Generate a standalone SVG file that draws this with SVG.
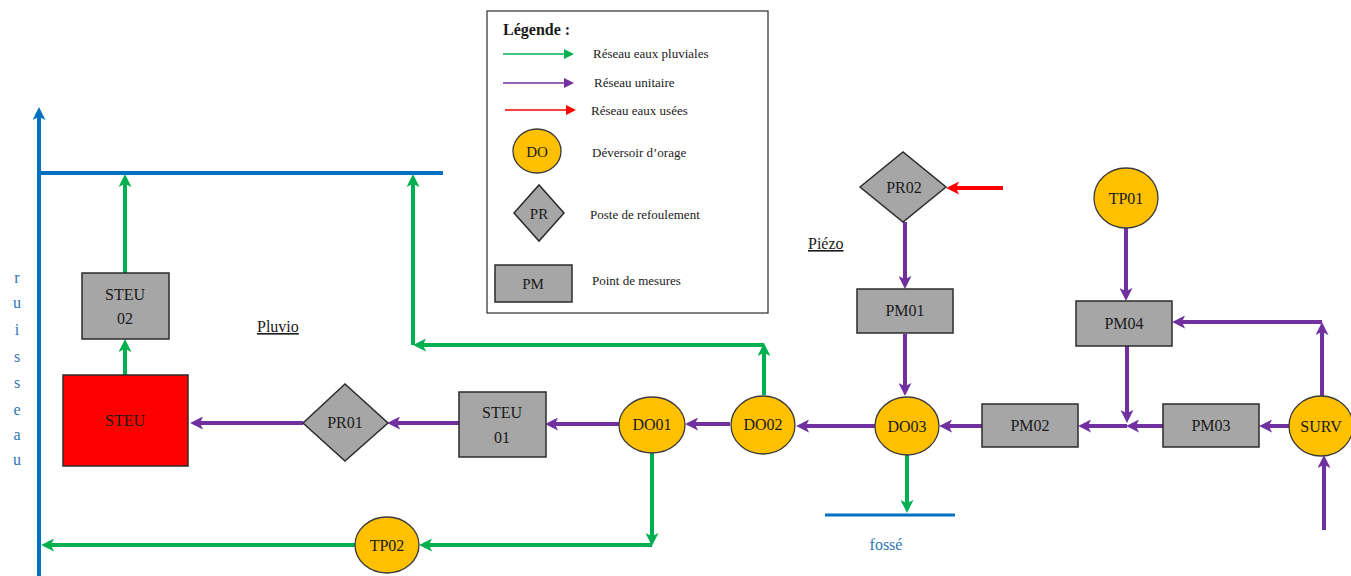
<svg xmlns="http://www.w3.org/2000/svg" width="1351" height="576" viewBox="0 0 1351 576" font-family="'Liberation Serif', 'DejaVu Serif', serif">
<defs>
<style>
text{font-family:'Liberation Serif','DejaVu Serif',serif;fill:#1a1a1a}
.n{font-size:16px;text-anchor:middle}
.lg{font-size:13px}
.do{fill:#ffc000;stroke:#3a3a3a;stroke-width:1.3}
.gr{fill:#a6a6a6;stroke:#2b2b2b;stroke-width:1.5}
.g{stroke:#00b050;stroke-width:4;fill:none}
.p{stroke:#7030a0;stroke-width:4;fill:none}
.r{stroke:#ff0000;stroke-width:4;fill:none}
.b{stroke:#0070c0;stroke-width:4;fill:none}
.blue{fill:#2e75b6;font-size:16px;text-anchor:middle}
.u{font-size:16px;text-decoration:underline}
</style>
<marker id="ag" viewBox="0 0 10 10" refX="7" refY="5" markerWidth="13" markerHeight="13" markerUnits="userSpaceOnUse" orient="auto"><path d="M0,0 L10,5 L0,10 L2.5,5 z" fill="#00b050"/></marker>
<marker id="ap" viewBox="0 0 10 10" refX="7" refY="5" markerWidth="13" markerHeight="13" markerUnits="userSpaceOnUse" orient="auto"><path d="M0,0 L10,5 L0,10 L2.5,5 z" fill="#7030a0"/></marker>
<marker id="ar" viewBox="0 0 10 10" refX="7" refY="5" markerWidth="13" markerHeight="13" markerUnits="userSpaceOnUse" orient="auto"><path d="M0,0 L10,5 L0,10 L2.5,5 z" fill="#ff0000"/></marker>
<marker id="ab" viewBox="0 0 10 10" refX="7" refY="5" markerWidth="13" markerHeight="13" markerUnits="userSpaceOnUse" orient="auto"><path d="M0,0 L10,5 L0,10 L2.5,5 z" fill="#0070c0"/></marker>
<marker id="lg" viewBox="0 0 10 10" refX="8" refY="5" markerWidth="12" markerHeight="10" markerUnits="userSpaceOnUse" orient="auto"><path d="M0,0 L10,5 L0,10 z" fill="#00b050"/></marker>
<marker id="lp" viewBox="0 0 10 10" refX="8" refY="5" markerWidth="12" markerHeight="10" markerUnits="userSpaceOnUse" orient="auto"><path d="M0,0 L10,5 L0,10 z" fill="#7030a0"/></marker>
<marker id="lr" viewBox="0 0 10 10" refX="8" refY="5" markerWidth="12" markerHeight="10" markerUnits="userSpaceOnUse" orient="auto"><path d="M0,0 L10,5 L0,10 z" fill="#ff0000"/></marker>
</defs>
<rect width="1351" height="576" fill="#ffffff"/>

<g id="river">
<line class="b" x1="39" y1="576" x2="39" y2="111" marker-end="url(#ab)"/>
<line class="b" x1="39" y1="173" x2="443" y2="173"/>
<text class="blue" x="17" y="283">r</text>
<text class="blue" x="17" y="308">u</text>
<text class="blue" x="17" y="335">i</text>
<text class="blue" x="17" y="362">s</text>
<text class="blue" x="17" y="388">s</text>
<text class="blue" x="17" y="415">e</text>
<text class="blue" x="17" y="440">a</text>
<text class="blue" x="17" y="465">u</text>
</g>
<g id="fosse">
<line class="b" x1="825" y1="515" x2="955" y2="515" style="stroke-width:3"/>
<text class="blue" x="886" y="550">fossé</text>
</g>
<g id="labels">
<text class="u" x="257" y="332">Pluvio</text>
<text class="u" x="808" y="249">Piézo</text>
</g>

<g id="connectors">
<line class="g" x1="125" y1="375" x2="125" y2="343" marker-end="url(#ag)"/>
<line class="g" x1="125" y1="273" x2="125" y2="178" marker-end="url(#ag)"/>
<line class="g" x1="764" y1="395" x2="764" y2="347" marker-end="url(#ag)"/>
<line class="g" x1="764" y1="345" x2="417" y2="345" marker-end="url(#ag)"/>
<line class="g" x1="413" y1="345" x2="413" y2="178" marker-end="url(#ag)"/>
<line class="g" x1="652" y1="453" x2="652" y2="542" marker-end="url(#ag)"/>
<line class="g" x1="652" y1="545" x2="423" y2="545" marker-end="url(#ag)"/>
<line class="g" x1="355" y1="545" x2="45" y2="545" marker-end="url(#ag)"/>
<line class="g" x1="907" y1="455" x2="907" y2="509" marker-end="url(#ag)"/>
<line class="p" x1="303" y1="423" x2="194" y2="423" marker-end="url(#ap)"/>
<line class="p" x1="459" y1="423" x2="391" y2="423" marker-end="url(#ap)"/>
<line class="p" x1="619" y1="424" x2="549" y2="424" marker-end="url(#ap)"/>
<line class="p" x1="730" y1="424" x2="689" y2="424" marker-end="url(#ap)"/>
<line class="p" x1="875" y1="426" x2="800" y2="426" marker-end="url(#ap)"/>
<line class="p" x1="982" y1="426" x2="943" y2="426" marker-end="url(#ap)"/>
<line class="p" x1="1127" y1="426" x2="1082" y2="426" marker-end="url(#ap)"/>
<line class="p" x1="1163" y1="426" x2="1130" y2="426" marker-end="url(#ap)"/>
<line class="p" x1="1290" y1="426" x2="1263" y2="426" marker-end="url(#ap)"/>
<line class="p" x1="1127" y1="346" x2="1127" y2="419" marker-end="url(#ap)"/>
<line class="p" x1="1126" y1="228" x2="1126" y2="297" marker-end="url(#ap)"/>
<line class="p" x1="1322" y1="396" x2="1322" y2="326" marker-end="url(#ap)"/>
<line class="p" x1="1322" y1="322" x2="1176" y2="322" marker-end="url(#ap)"/>
<line class="p" x1="1324" y1="530" x2="1324" y2="459" marker-end="url(#ap)"/>
<line class="p" x1="905" y1="222" x2="905" y2="285" marker-end="url(#ap)"/>
<line class="p" x1="905" y1="334" x2="905" y2="392" marker-end="url(#ap)"/>
<line class="r" x1="1003" y1="188" x2="950" y2="188" marker-end="url(#ar)"/>
</g>

<g id="STEU"><rect x="63" y="375" width="125" height="91" fill="#ff0000" stroke="#2b2b2b" stroke-width="1.5"/><text class="n" x="125" y="426">STEU</text></g>
<g id="STEU02"><rect class="gr" x="82" y="273" width="87" height="66"/><text class="n" x="125" y="300">STEU</text><text class="n" x="125" y="324">02</text></g>
<g id="PR01"><polygon class="gr" points="303,423 345,384 388,423 345,461"/><text class="n" x="345" y="428">PR01</text></g>
<g id="STEU01"><rect class="gr" x="459" y="392" width="87" height="65"/><text class="n" x="502" y="418">STEU</text><text class="n" x="502" y="443">01</text></g>
<g id="DO01"><ellipse class="do" cx="652" cy="425" rx="33" ry="28"/><text class="n" x="652" y="430">DO01</text></g>
<g id="DO02"><ellipse class="do" cx="763" cy="425" rx="32" ry="29"/><text class="n" x="763" y="430">DO02</text></g>
<g id="DO03"><ellipse class="do" cx="907" cy="426" rx="32" ry="29"/><text class="n" x="907" y="432">DO03</text></g>
<g id="PM02"><rect class="gr" x="982" y="404" width="96" height="43"/><text class="n" x="1030" y="431">PM02</text></g>
<g id="PM03"><rect class="gr" x="1163" y="404" width="96" height="43"/><text class="n" x="1211" y="431">PM03</text></g>
<g id="SURV"><ellipse class="do" cx="1321" cy="426" rx="32" ry="30"/><text class="n" x="1321" y="432">SURV</text></g>
<g id="PM04"><rect class="gr" x="1076" y="301" width="96" height="45"/><text class="n" x="1124" y="329">PM04</text></g>
<g id="TP01"><ellipse class="do" cx="1126" cy="198" rx="32" ry="30"/><text class="n" x="1126" y="204">TP01</text></g>
<g id="PR02"><polygon class="gr" points="860,187 903,152 946,187 903,222"/><text class="n" x="904" y="193">PR02</text></g>
<g id="PM01"><rect class="gr" x="857" y="289" width="96" height="44"/><text class="n" x="905" y="316">PM01</text></g>
<g id="TP02"><ellipse class="do" cx="387" cy="545" rx="32" ry="28"/><text class="n" x="387" y="551">TP02</text></g>

<g id="legend">
<rect x="487" y="11" width="281" height="302" fill="#ffffff" stroke="#2b2b2b" stroke-width="1.2"/>
<text x="503" y="35" style="font-size:16px;font-weight:bold">Légende :</text>
<line x1="503" y1="54" x2="572" y2="54" stroke="#00b050" stroke-width="1.5" marker-end="url(#lg)"/>
<text class="lg" x="593" y="58">Réseau eaux pluviales</text>
<line x1="503" y1="83" x2="572" y2="83" stroke="#7030a0" stroke-width="1.5" marker-end="url(#lp)"/>
<text class="lg" x="594" y="87">Réseau unitaire</text>
<line x1="505" y1="110" x2="574" y2="110" stroke="#ff0000" stroke-width="1.5" marker-end="url(#lr)"/>
<text class="lg" x="591" y="115">Réseau eaux usées</text>
<ellipse class="do" cx="537" cy="151" rx="24" ry="22"/>
<text x="537" y="157" style="font-size:15px;text-anchor:middle">DO</text>
<text class="lg" x="592" y="157">Déversoir d’orage</text>
<polygon class="gr" points="514,213 539,185 564,213 539,241"/>
<text x="539" y="219" style="font-size:15px;text-anchor:middle">PR</text>
<text class="lg" x="590" y="219">Poste de refoulement</text>
<rect class="gr" x="495" y="265" width="77" height="37"/>
<text x="533" y="289" style="font-size:15px;text-anchor:middle">PM</text>
<text class="lg" x="592" y="285">Point de mesures</text>
</g>
</svg>
